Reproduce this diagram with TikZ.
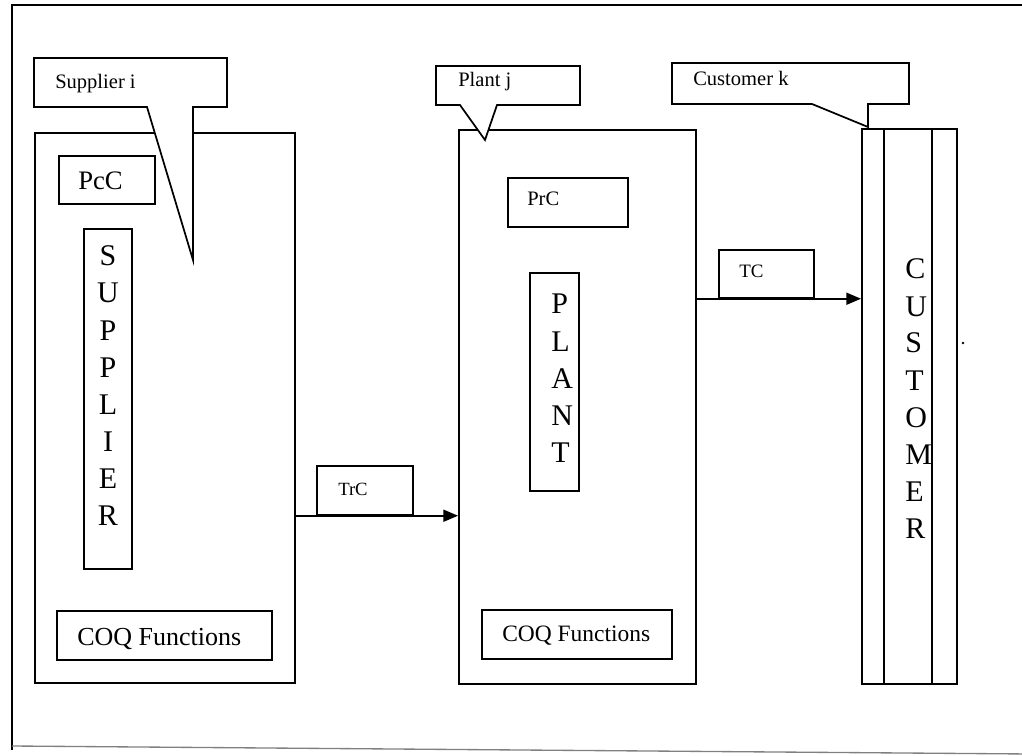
\documentclass[tikz,border=0pt]{standalone}
\usepackage{fontspec}
\setmainfont{Liberation Serif}
\usetikzlibrary{arrows.meta}
\begin{document}
\begin{tikzpicture}[x=0.75pt,y=-0.75pt,
  box/.style={draw,line width=1.3pt,fill=white,inner sep=0pt},
  sz/.style 2 args={minimum width=#1*0.75pt,minimum height=#2*0.75pt,anchor=north west},
  lbl/.style={inner sep=0pt,anchor=base west},
  big/.style={inner sep=0pt,font=\fontsize{22.5}{27}\selectfont},
  flow/.style={line width=1.3pt,-{Triangle[length=11pt,width=9pt]}}]
\useasboundingbox (0,0) rectangle (1022,756);
% outer frame
\draw[line width=2pt] (12,750) -- (12,5) -- (1030,5);
\draw[line width=1pt,gray] (12,746) -- (1030,754);
% main boxes
\node[box,sz={260}{550}] (supplier) at (34,132) {};
\node[box,sz={237}{554}] (plant) at (458,129) {};
\node[box,sz={95}{555}] (customer) at (861,128) {};
\draw[line width=1.3pt] (884,128) -- (884,683);
\draw[line width=1.3pt] (932,128) -- (932,683);
% supplier inner
\node[box,sz={96}{48}] (pcc) at (58,155) {};
\node[lbl,font=\fontsize{20}{24}\selectfont] (pcctxt) at (78,190) {PcC};
\node[box,sz={48}{340}] (supcol) at (83,228) {};
\foreach \l [count=\i from 0] in {S,U,P,P,L,I,E,R}
  \node[big,anchor=base] (sl\i) at (108,266+37*\i) {\l};
\node[box,sz={215}{49}] (coqa) at (56,610) {};
\node[lbl,font=\fontsize{19.5}{23}\selectfont] (coqatxt) at (77,645) {COQ Functions};
% transport
\node[box,sz={96}{49}] (trc) at (316,465) {};
\node[lbl,font=\fontsize{14}{17}\selectfont] (trctxt) at (338,495) {TrC};
\draw[flow] (supplier.east |- trc.south) -- (plant.west |- trc.south);
% plant inner
\node[box,sz={120}{49}] (prc) at (507,177) {};
\node[lbl,font=\fontsize{15.4}{18}\selectfont] (prctxt) at (527,206) {PrC};
\node[box,sz={49}{218}] (plcol) at (529,272) {};
\foreach \l [count=\i from 0] in {P,L,A,N,T}
  \node[big,anchor=base west] (pl\i) at (551,314+37*\i) {\l};
\node[box,sz={190}{49}] (coqb) at (481,609) {};
\node[lbl,font=\fontsize{17.6}{21}\selectfont] (coqbtxt) at (502,641) {COQ Functions};
% TC
\node[box,sz={95}{48}] (tc) at (718,249) {};
\node[lbl,font=\fontsize{14.2}{17}\selectfont] (tctxt) at (739,278) {TC};
\draw[flow] (plant.east |- tc.south) -- (customer.west |- tc.south);
% customer letters
\foreach \l [count=\i from 0] in {C,U,S,T,O,M,E,R}
  \node[big,anchor=base west] (cl\i) at (905,279+37*\i) {\l};
\fill (963,343) circle[radius=1.1pt];
% callouts
\draw[line width=1.3pt,fill=white] (34,58) -- (227,58) -- (227,107) -- (193,107) -- (193,260) -- (147,107) -- (34,107) -- cycle;
\node[lbl,font=\fontsize{15.4}{18}\selectfont] (suptag) at (55,89) {Supplier i};
\draw[line width=1.3pt,fill=white] (436,66) -- (580,66) -- (580,105) -- (497,105) -- (485,140) -- (460,105) -- (436,105) -- cycle;
\node[lbl,font=\fontsize{15.4}{18}\selectfont] (pltag) at (458,87) {Plant j};
\draw[line width=1.3pt,fill=white] (672,63) -- (909,63) -- (909,104) -- (868,104) -- (868,127) -- (812,104) -- (672,104) -- cycle;
\node[lbl,font=\fontsize{15.4}{18}\selectfont] (custag) at (693,86) {Customer k};
\end{tikzpicture}
\end{document}
